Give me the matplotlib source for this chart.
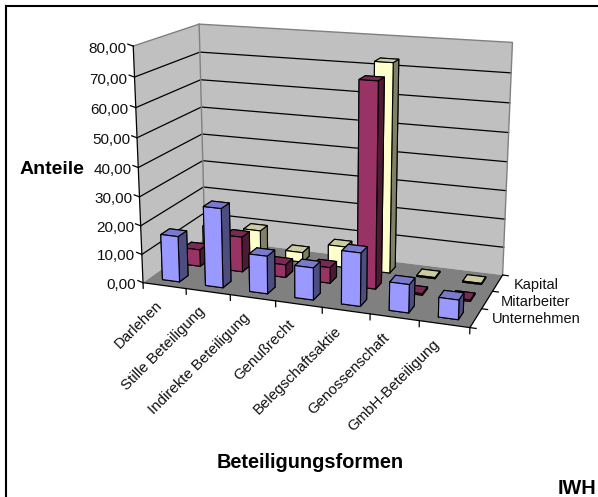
import numpy as np
import matplotlib
matplotlib.use('Agg')
import matplotlib.pyplot as plt
from mpl_toolkits.mplot3d import proj3d
from mpl_toolkits.mplot3d.art3d import Poly3DCollection

W, H = 598, 497
plt.rcParams['font.family'] = ['Liberation Sans', 'DejaVu Sans']

categories = ['Darlehen', 'Stille Beteiligung', 'Indirekte Beteiligung', 'Genußrecht',
              'Belegschaftsaktie', 'Genossenschaft', 'GmbH-Beteiligung']
series_names = ['Unternehmen', 'Mitarbeiter', 'Kapital']
unternehmen = [16, 27.5, 13, 11, 18, 9.5, 6.5]
mitarbeiter = [6, 12.5, 4.5, 5.5, 70, 0.5, 0.5]
kapital = [9, 9.7, 3.5, 7.5, 73, 0.4, 0.4]
z_ticks = [0, 10, 20, 30, 40, 50, 60, 70, 80]

# bottom, top, front, back, left, right
blue = ['#9999ff', '#7a7acc', '#9999ff', '#9999ff', '#4d4d80', '#4d4d80']
red = ['#993366', '#7a2952', '#993366', '#993366', '#4d1a33', '#4d1a33']
yellow = ['#ffffcc', '#ccccA3', '#ffffcc', '#ffffcc', '#808066', '#808066']

fig = plt.figure(figsize=(W / 100, H / 100), dpi=100)
ax = fig.add_axes([0.1737, 0.2248, 0.7185, 0.8645], projection='3d', computed_zorder=False)
ax.view_init(15.378, -70.177, -0.052)
ax.set_proj_type('persp', focal_length=0.5227)
ax.set_box_aspect((1.3962, 0.6036, 1))
ax.set_axis_off()

n = len(categories)
m = len(series_names)
top = z_ticks[-1]

# walls and floor
wall_c = '#c0c0c0'
ax.add_collection3d(Poly3DCollection([[(0, 0, 0), (0, m, 0), (0, m, top), (0, 0, top)]],
                                     facecolor=wall_c, edgecolor='none', zorder=1))
ax.add_collection3d(Poly3DCollection([[(0, m, 0), (n, m, 0), (n, m, top), (0, m, top)]],
                                     facecolor=wall_c, edgecolor='none', zorder=1))
for z in z_ticks[1:-1]:
    ax.plot([0, 0, n], [0, m, m], [z, z, z], color='k', lw=0.9, zorder=2)
ax.plot([0, 0, n, n], [0, m, m, m], [top, top, top, 0], color='#808080', lw=1, zorder=2)
ax.plot([0, 0], [m, m], [0, top], color='#808080', lw=1, zorder=2)
ax.add_collection3d(Poly3DCollection([[(0, 0, 0), (n, 0, 0), (n, m, 0), (0, m, 0)]],
                                     facecolor='#808080', edgecolor='none', zorder=3))

# axis lines and ticks
ax.plot([0, 0], [0, 0], [0, top], color='k', lw=0.9, zorder=4)
ax.plot([0, n, n], [0, 0, m], [0, 0, 0], color='k', lw=0.9, zorder=4)
for z in z_ticks:
    ax.plot([-0.12, 0], [0, 0], [z + 0.5, z], color='k', lw=0.9, zorder=4)
for i in range(n + 1):
    ax.plot([i, i], [0, 0], [0, -2], color='k', lw=0.9, zorder=4)
for j in range(m + 1):
    ax.plot([n, n + 0.12], [j, j], [0, 0], color='k', lw=0.9, zorder=4)

# bars, back row first
w = 0.4
order = 5
for j, vals, cols in [(2, kapital, yellow), (1, mitarbeiter, red), (0, unternehmen, blue)]:
    for i, v in enumerate(vals):
        ax.bar3d(i + 0.3, j + 0.3, 0, w, w, v, color=cols, edgecolor='k', linewidth=0.8,
                 shade=False, zorder=order)
        order += 1

ax.set_xlim(0, n, view_margin=0)
ax.set_ylim(0, m, view_margin=0)
ax.set_zlim(0, top, view_margin=0)

# tick labels
M = ax.get_proj()
for z in z_ticks:
    tx, ty, _ = proj3d.proj_transform(-0.16, 0, z - 1, M)
    ax.text2D(tx, ty, ('%.2f' % z).replace('.', ','), ha='right', va='center', fontsize=11,
              color='#111111', zorder=500)
for i, c in enumerate(categories):
    tx, ty, _ = proj3d.proj_transform(i + 0.26, 0, -5, M)
    ax.text2D(tx, ty, c, rotation=45, rotation_mode='anchor', ha='right', va='top',
              fontsize=10.8, color='#111111', zorder=500)
for name, y in zip(series_names, [319, 302, 285]):
    fig.text(536 / W, 1 - y / H, name, ha='center', va='center', fontsize=10.5, color='#111111')

fig.text(52 / W, 1 - 170 / H, 'Anteile', ha='center', va='center', fontsize=14, fontweight='bold')
fig.text(310.5 / W, 1 - 462 / H, 'Beteiligungsformen', ha='center', va='center', fontsize=14.3, fontweight='bold')
fig.text(558 / W, 1 - 488 / H, 'IWH', ha='left', va='center', fontsize=14.3, fontweight='bold')

fig.add_artist(plt.Line2D([5.5 / W, 1], [1 - 5.5 / H] * 2, color='k', lw=1.5))
fig.add_artist(plt.Line2D([5.5 / W] * 2, [0, 1 - 5.5 / H], color='k', lw=1.5))

fig.savefig('out.png', dpi=100)
